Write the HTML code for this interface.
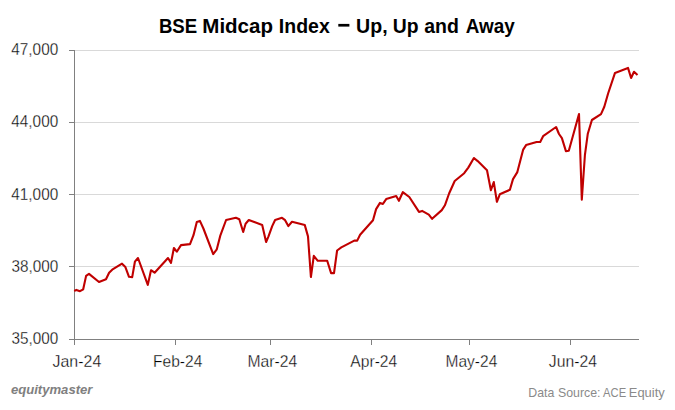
<!DOCTYPE html>
<html>
<head>
<meta charset="utf-8">
<title>BSE Midcap Index – Up, Up and Away</title>
<style>
  html, body { margin: 0; padding: 0; background: #ffffff; }
  body { width: 675px; height: 410px; overflow: hidden; position: relative; font-family: "Liberation Sans", sans-serif; }
  svg { position: absolute; left: 0; top: 0; display: block; }
  text { font-family: "Liberation Sans", sans-serif; white-space: pre; }
</style>
</head>
<body>
<svg width="675" height="410" viewBox="0 0 675 410">
  <rect x="0" y="0" width="675" height="410" fill="#ffffff"/>

  <!-- horizontal gridlines -->
  <g stroke="#d9d9d9" stroke-width="1" shape-rendering="crispEdges">
    <line x1="75" y1="50.5" x2="638.5" y2="50.5"/>
    <line x1="75" y1="122.5" x2="638.5" y2="122.5"/>
    <line x1="75" y1="194.5" x2="638.5" y2="194.5"/>
    <line x1="75" y1="266.5" x2="638.5" y2="266.5"/>
  </g>

  <!-- axes and tick marks -->
  <g stroke="#808080" stroke-width="1" shape-rendering="crispEdges">
    <line x1="74.5" y1="50" x2="74.5" y2="345"/>
    <line x1="69" y1="339.5" x2="638.5" y2="339.5"/>
    <line x1="69" y1="50.5" x2="75" y2="50.5"/>
    <line x1="69" y1="122.5" x2="75" y2="122.5"/>
    <line x1="69" y1="194.5" x2="75" y2="194.5"/>
    <line x1="69" y1="266.5" x2="75" y2="266.5"/>
    <line x1="175.5" y1="339" x2="175.5" y2="345"/>
    <line x1="270.5" y1="339" x2="270.5" y2="345"/>
    <line x1="371.5" y1="339" x2="371.5" y2="345"/>
    <line x1="469.5" y1="339" x2="469.5" y2="345"/>
    <line x1="570.5" y1="339" x2="570.5" y2="345"/>
  </g>

  <!-- BSE Midcap series -->
  <polyline fill="none" stroke="#c00000" stroke-width="2.1" stroke-linejoin="round" stroke-linecap="butt"
    points="74.2,291 76.4,289.9 80,291.2 83.2,289.3 86.1,275.9 89,273.9 99,282 106,279.3 109.1,272.8 112.2,269.7 122,263.7 125.4,267.1 129,276.8 132.2,277.1 134.9,261.7 138,258 147.8,284.9 151,270.2 154.6,272.7 168,258 171,262.9 173.9,248 176.8,251.7 181,245.1 190,244.1 193.5,235.2 196.8,222 199.9,220.9 203.4,228.5 213.2,254.1 216.8,249.3 220.2,235.9 226.1,220 235.9,217.8 239.3,219.3 243.2,232 245.6,223.7 248.8,220 262.2,225.1 266.1,242 268.5,236.3 272.2,226.1 275.1,220 282,217.8 285.1,220.2 288.3,226.1 292,221.7 304.8,225.1 308,236.4 310.9,277 313.8,255.8 317.8,260.8 327.2,260.8 331.1,273.1 334,273.1 337.1,250.5 341.3,247.4 354.3,240.6 357.2,240.6 360.1,234.8 373,220.3 376.1,209.1 380,202.9 382.9,203.9 386.2,199.1 396.2,196.1 398.9,200.8 402.8,192.2 409.3,197 419,211.9 422.1,210.9 428.8,214.6 432.1,218.8 441.8,210.1 444.9,205.3 449.1,193.5 454.7,181 464.2,173.2 468.3,167.6 473.9,158 477.7,161.1 487,170.3 490.9,190.2 493.8,182.1 496.9,201.8 499.8,194.3 509.9,189.8 513,179.1 517.2,172.4 523.2,149.6 526.1,145.1 536.6,142 540.2,142 543.1,136.2 556.1,127 559,134 561.9,138.1 565.9,151.1 568.8,150.7 579,114 581.8,199.8 584.9,155.2 587.8,133.7 591.9,120 601,114.1 604.3,106.8 608.1,93.5 615,72.9 628,67.9 631.1,78 634,71.8 637.5,75.1"/>

  <!-- text: title, axis labels, footer -->
  <rect x="338.3" y="23.9" width="11.1" height="2.7" fill="#000000"/>
  <text x="158.90" y="32.70" font-size="20.6" fill="#000000" textLength="38.27" lengthAdjust="spacingAndGlyphs" font-weight="bold">BSE</text>
  <text x="202.30" y="32.70" font-size="20.6" fill="#000000" textLength="70.67" lengthAdjust="spacingAndGlyphs" font-weight="bold">Midcap</text>
  <text x="278.85" y="32.70" font-size="20.6" fill="#000000" textLength="50.93" lengthAdjust="spacingAndGlyphs" font-weight="bold">Index</text>
  <text x="356.05" y="32.70" font-size="20.6" fill="#000000" textLength="31.54" lengthAdjust="spacingAndGlyphs" font-weight="bold">Up,</text>
  <text x="392.76" y="32.70" font-size="20.6" fill="#000000" textLength="25.78" lengthAdjust="spacingAndGlyphs" font-weight="bold">Up</text>
  <text x="424.20" y="32.70" font-size="20.6" fill="#000000" textLength="34.65" lengthAdjust="spacingAndGlyphs" font-weight="bold">and</text>
  <text x="465.70" y="32.70" font-size="20.6" fill="#000000" textLength="49.00" lengthAdjust="spacingAndGlyphs" font-weight="bold">Away</text>
  <text x="11.30" y="54.90" font-size="16.2" fill="#000000" textLength="46.90" lengthAdjust="spacingAndGlyphs" stroke="#ffffff" stroke-width="0.3">47,000</text>
  <text x="11.30" y="127.10" font-size="16.2" fill="#000000" textLength="46.90" lengthAdjust="spacingAndGlyphs" stroke="#ffffff" stroke-width="0.3">44,000</text>
  <text x="11.30" y="199.50" font-size="16.2" fill="#000000" textLength="46.90" lengthAdjust="spacingAndGlyphs" stroke="#ffffff" stroke-width="0.3">41,000</text>
  <text x="11.50" y="271.60" font-size="16.2" fill="#000000" textLength="46.70" lengthAdjust="spacingAndGlyphs" stroke="#ffffff" stroke-width="0.3">38,000</text>
  <text x="11.50" y="343.80" font-size="16.2" fill="#000000" textLength="46.70" lengthAdjust="spacingAndGlyphs" stroke="#ffffff" stroke-width="0.3">35,000</text>
  <text x="52.50" y="366.80" font-size="15.6" fill="#000000" textLength="48.77" lengthAdjust="spacingAndGlyphs" stroke="#ffffff" stroke-width="0.3">Jan-24</text>
  <text x="153.00" y="366.80" font-size="15.6" fill="#000000" textLength="49.37" lengthAdjust="spacingAndGlyphs" stroke="#ffffff" stroke-width="0.3">Feb-24</text>
  <text x="247.49" y="366.80" font-size="15.6" fill="#000000" textLength="49.78" lengthAdjust="spacingAndGlyphs" stroke="#ffffff" stroke-width="0.3">Mar-24</text>
  <text x="350.30" y="366.80" font-size="15.6" fill="#000000" textLength="46.97" lengthAdjust="spacingAndGlyphs" stroke="#ffffff" stroke-width="0.3">Apr-24</text>
  <text x="445.50" y="366.80" font-size="15.6" fill="#000000" textLength="51.77" lengthAdjust="spacingAndGlyphs" stroke="#ffffff" stroke-width="0.3">May-24</text>
  <text x="548.80" y="366.80" font-size="15.6" fill="#000000" textLength="48.17" lengthAdjust="spacingAndGlyphs" stroke="#ffffff" stroke-width="0.3">Jun-24</text>
  <text x="10.90" y="394.30" font-size="12.6" fill="#808080" textLength="81.56" lengthAdjust="spacingAndGlyphs" font-weight="bold" font-style="italic">equitymaster</text>
  <text x="528.27" y="397.10" font-size="13.2" fill="#8a8a8a" textLength="26.01" lengthAdjust="spacingAndGlyphs">Data</text>
  <text x="557.90" y="397.10" font-size="13.2" fill="#8a8a8a" textLength="42.62" lengthAdjust="spacingAndGlyphs">Source:</text>
  <text x="603.10" y="397.10" font-size="13.2" fill="#8a8a8a" textLength="23.03" lengthAdjust="spacingAndGlyphs">ACE</text>
  <text x="628.82" y="397.10" font-size="13.2" fill="#8a8a8a" textLength="35.88" lengthAdjust="spacingAndGlyphs">Equity</text>
</svg>
</body>
</html>
